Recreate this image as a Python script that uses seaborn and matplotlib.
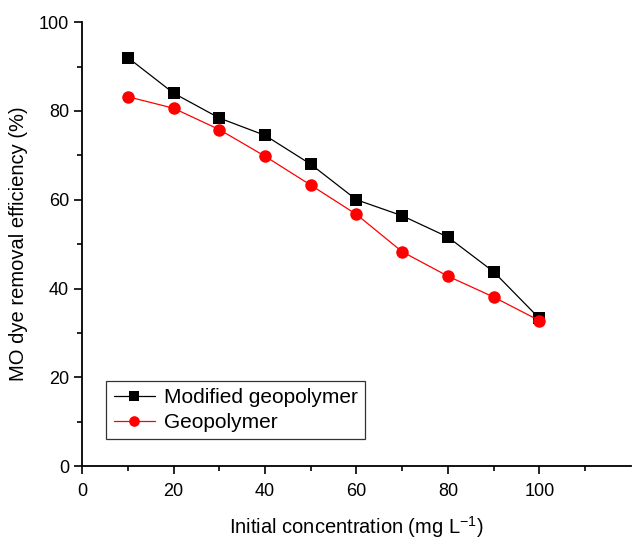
import pandas as pd
import matplotlib
matplotlib.use("Agg")
import matplotlib.pyplot as plt
import seaborn as sns

# data
conc = [10, 20, 30, 40, 50, 60, 70, 80, 90, 100]
modified = [92.0, 84.0, 78.4, 74.5, 68.0, 60.0, 56.4, 51.6, 43.8, 33.3]
geo = [83.2, 80.6, 75.8, 69.8, 63.3, 56.7, 48.3, 42.8, 38.1, 32.8]

df = pd.DataFrame({
    "conc": conc * 2,
    "eff": modified + geo,
    "series": ["Modified geopolymer"] * len(conc) + ["Geopolymer"] * len(conc),
})

sns.set_style("ticks")
plt.rcParams["font.family"] = ["Liberation Sans", "DejaVu Sans"]
plt.rcParams["text.color"] = "black"
plt.rcParams["axes.labelcolor"] = "black"
plt.rcParams["xtick.color"] = "black"
plt.rcParams["ytick.color"] = "black"

fig = plt.figure(figsize=(6.32, 5.39), dpi=100)
ax = fig.add_axes([0.130, 0.135, 0.868, 0.824])

sns.lineplot(
    data=df, x="conc", y="eff", hue="series", style="series",
    palette={"Modified geopolymer": "black", "Geopolymer": "red"},
    markers={"Modified geopolymer": "s", "Geopolymer": "o"},
    dashes=False, linewidth=0.9, markersize=9, markeredgewidth=0,
    ax=ax,
)

ax.set_xlim(0, 120)
ax.set_ylim(0, 100)
ax.set_xticks([0, 20, 40, 60, 80, 100])
ax.set_xticks([10, 30, 50, 70, 90, 110], minor=True)
ax.set_yticks([0, 20, 40, 60, 80, 100])
ax.set_yticks([10, 30, 50, 70, 90], minor=True)
ax.tick_params(which="major", length=6, width=1.2, labelsize=13, direction="out")
ax.tick_params(axis="x", which="major", pad=6)
ax.tick_params(which="minor", length=3.5, width=1.2, direction="out")
for s in ["top", "right"]:
    ax.spines[s].set_visible(False)
for s in ["left", "bottom"]:
    ax.spines[s].set_linewidth(1.3)
    ax.spines[s].set_color("black")

ax.set_xlabel("Initial concentration (mg L$\\mathregular{^{-1}}$)", fontsize=14.5, labelpad=10)
ax.set_ylabel("MO dye removal efficiency (%)", fontsize=14.5, labelpad=8)

leg = ax.legend(loc="lower left", bbox_to_anchor=(0.025, 0.037), fontsize=15,
                frameon=True, fancybox=False, handlelength=2.0, borderpad=0.35,
                labelspacing=0.3, handletextpad=0.4, markerscale=0.85)
leg.get_frame().set_edgecolor("black")
leg.get_frame().set_linewidth(0.9)

fig.savefig("out.png", dpi=100)
